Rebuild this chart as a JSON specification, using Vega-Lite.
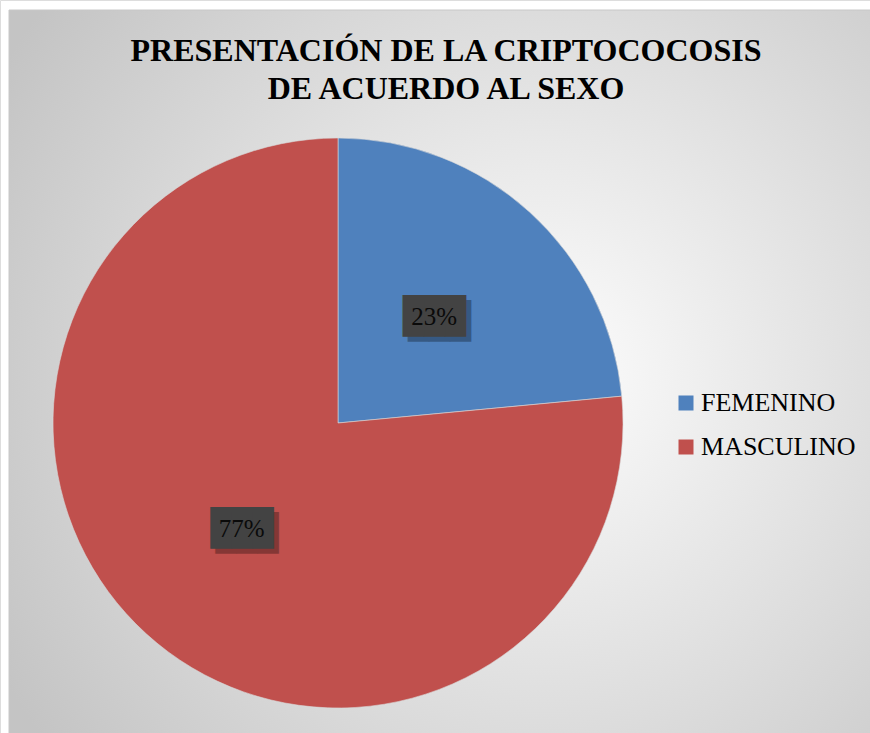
{
  "$schema": "https://vega.github.io/schema/vega-lite/v6.json",
  "autosize": "none",
  "width": 870,
  "height": 733,
  "padding": 0,
  "background": "#ffffff",
  "title": {
    "text": ["PRESENTACIÓN DE LA CRIPTOCOCOSIS", "DE ACUERDO AL SEXO"],
    "font": "Liberation Serif",
    "fontSize": 32,
    "fontWeight": "bold",
    "color": "#000000",
    "anchor": "middle",
    "frame": "group",
    "orient": "top",
    "lineHeight": 38,
    "baseline": "alphabetic",
    "offset": -131,
    "dx": 11
  },
  "data": {
    "values": [
      {"sexo": "FEMENINO", "valor": 23.5, "label": "23%"},
      {"sexo": "MASCULINO", "valor": 76.5, "label": "77%"}
    ]
  },
  "layer": [
    {
      "data": {"values": [{"frame": 1}]},
      "mark": {
        "type": "rect",
        "stroke": "#c8c8c8",
        "strokeWidth": 1,
        "fill": {
          "gradient": "radial",
          "x1": 0.62, "y1": 0.5, "r1": 0,
          "x2": 0.62, "y2": 0.5, "r2": 0.72,
          "stops": [
            {"offset": 0, "color": "#fdfdfd"},
            {"offset": 1, "color": "#c4c4c4"}
          ]
        }
      },
      "encoding": {
        "x": {"value": 9},
        "x2": {"value": 872},
        "y": {"value": 10},
        "y2": {"value": 735}
      }
    },
    {
      "mark": {"type": "arc", "outerRadius": 285, "stroke": "#d9d9d9", "strokeWidth": 0.6},
      "encoding": {
        "x": {"value": 338},
        "y": {"value": 423},
        "theta": {"field": "valor", "type": "quantitative", "stack": true},
        "color": {
          "field": "sexo",
          "type": "nominal",
          "scale": {"domain": ["FEMENINO", "MASCULINO"], "range": ["#4f81bd", "#c0504d"]},
          "legend": {
            "orient": "none",
            "legendX": 673,
            "legendY": 390,
            "title": null,
            "symbolType": "square",
            "symbolSize": 225,
            "symbolStrokeWidth": 0,
            "labelFont": "Liberation Serif",
            "labelFontSize": 26,
            "labelColor": "#000000",
            "rowPadding": 18,
            "labelOffset": 2
          }
        },
        "order": {"field": "sexo"}
      }
    },
    {
      "mark": {"type": "text", "font": "DejaVu Sans Mono", "fontSize": 35, "baseline": "middle", "align": "center", "dx": 5, "dy": 5, "color": "#000000", "opacity": 0.3},
      "encoding": {
        "x": {"value": 338},
        "y": {"value": 423},
        "theta": {"field": "valor", "type": "quantitative", "stack": true},
        "radius": {"value": 143},
        "order": {"field": "sexo"},
        "text": {"value": "███"}
      }
    },
    {
      "mark": {"type": "text", "font": "DejaVu Sans Mono", "fontSize": 35, "baseline": "middle", "align": "center", "color": "#434343"},
      "encoding": {
        "x": {"value": 338},
        "y": {"value": 423},
        "theta": {"field": "valor", "type": "quantitative", "stack": true},
        "radius": {"value": 143},
        "order": {"field": "sexo"},
        "text": {"value": "███"}
      }
    },
    {
      "mark": {"type": "text", "font": "Liberation Serif", "fontSize": 25, "baseline": "middle", "align": "center", "color": "#0a0a0a"},
      "encoding": {
        "x": {"value": 338},
        "y": {"value": 423},
        "theta": {"field": "valor", "type": "quantitative", "stack": true},
        "radius": {"value": 143},
        "order": {"field": "sexo"},
        "text": {"field": "label"}
      }
    }
  ]
}
